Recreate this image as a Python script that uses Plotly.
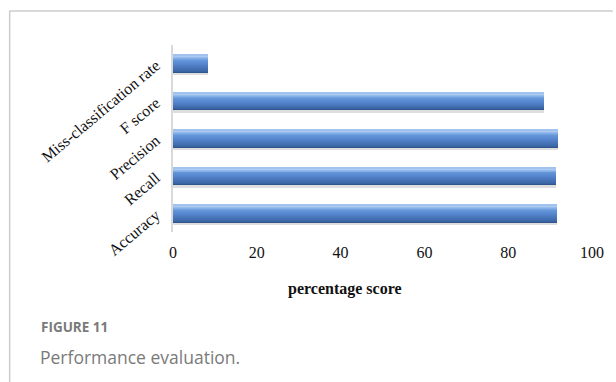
import plotly.graph_objects as go

# Performance metrics (percent), listed bottom to top
metrics = ["Accuracy", "Recall", "Precision", "F score", "Miss-classification rate"]
scores = [91.6, 91.4, 91.8, 88.6, 8.4]
x_ticks = [0, 20, 40, 60, 80, 100]

# Canvas and plot-area geometry (pixels)
W, H = 616, 382
M_LEFT, M_RIGHT, M_TOP, M_BOTTOM = 173, 21, 45, 150
PW = W - M_LEFT - M_RIGHT
PH = H - M_TOP - M_BOTTOM


def px_x(px):
    return (px - M_LEFT) / PW


def px_y(py):
    return (H - M_BOTTOM - py) / PH


SERIF = "Liberation Serif, Times New Roman, serif"
SANS = "Open Sans, Noto Sans, sans-serif"

BAR_W = 0.47
fig = go.Figure()

# drop shadow under each bar
fig.add_trace(go.Bar(
    x=scores, y=metrics, orientation="h",
    width=BAR_W, offset=-BAR_W / 2 - 0.08,
    marker=dict(color="rgba(0,0,0,0.13)", line=dict(width=0)),
    hoverinfo="skip", showlegend=False,
))

# glossy body: thin strips stacked from the bottom edge to the top edge
stops = [
    (0.00, (44, 80, 132)),
    (0.10, (60, 102, 166)),
    (0.45, (82, 130, 202)),
    (0.70, (100, 150, 218)),
    (0.84, (140, 180, 234)),
    (0.93, (178, 206, 243)),
    (1.00, (150, 186, 232)),
]


def blend(t):
    for (t0, c0), (t1, c1) in zip(stops, stops[1:]):
        if t <= t1:
            f = (t - t0) / (t1 - t0)
            return "rgb(%d,%d,%d)" % tuple(round(a + (b - a) * f) for a, b in zip(c0, c1))
    return "rgb(%d,%d,%d)" % stops[-1][1]


N = 18
strip = BAR_W / N
for i in range(N):
    t = (i + 0.5) / N
    fig.add_trace(go.Bar(
        x=scores, y=metrics, orientation="h",
        width=strip * 1.15, offset=-BAR_W / 2 + i * strip,
        marker=dict(color=blend(t), line=dict(width=0)),
        hoverinfo="skip" if i else "x+y", showlegend=False,
    ))

fig.update_layout(
    width=W,
    height=H,
    margin=dict(l=M_LEFT, r=M_RIGHT, t=M_TOP, b=M_BOTTOM, pad=0),
    paper_bgcolor="white",
    plot_bgcolor="white",
    barmode="overlay",
    bargap=0,
    xaxis=dict(
        range=[0, 100],
        tickvals=x_ticks,
        ticktext=[str(v) for v in x_ticks],
        showgrid=False,
        zeroline=False,
        showline=False,
        ticks="outside",
        ticklen=6,
        tickcolor="rgba(0,0,0,0)",
        tickfont=dict(family=SERIF, size=16, color="#111111"),
        fixedrange=True,
    ),
    yaxis=dict(
        type="category",
        categoryorder="array",
        categoryarray=metrics,
        range=[-0.5, len(metrics) - 0.5],
        showgrid=False,
        zeroline=False,
        showline=True,
        linecolor="#d9d9d9",
        linewidth=1.5,
        ticks="outside",
        ticklen=12,
        tickcolor="rgba(0,0,0,0)",
        tickangle=-40,
        tickfont=dict(family=SERIF, size=16, color="#111111"),
        fixedrange=True,
    ),
    annotations=[
        dict(
            text="<b>percentage score</b>",
            xref="paper", yref="paper",
            x=px_x(346), y=px_y(289),
            xanchor="center", yanchor="middle",
            showarrow=False,
            font=dict(family=SERIF, size=16, color="#111111"),
        ),
        dict(
            text="<b>FIGURE 11</b>",
            xref="paper", yref="paper",
            x=px_x(38), y=px_y(327),
            xanchor="left", yanchor="middle",
            showarrow=False,
            font=dict(family=SANS, size=13.5, color="#7a7a7a"),
        ),
        dict(
            text="Performance evaluation.",
            xref="paper", yref="paper",
            x=px_x(37), y=px_y(357),
            xanchor="left", yanchor="middle",
            showarrow=False,
            font=dict(family=SANS, size=17.5, color="#7a7a7a"),
        ),
    ],
    shapes=[
        # frame around the figure panel
        dict(type="line", xref="paper", yref="paper",
             x0=px_x(8.5), x1=px_x(8.5), y0=px_y(11), y1=px_y(H),
             line=dict(color="#cccccc", width=1.5)),
        dict(type="line", xref="paper", yref="paper",
             x0=px_x(8), x1=px_x(W), y0=px_y(11), y1=px_y(11),
             line=dict(color="#cccccc", width=1.5)),
    ],
)

fig.write_html("out.html", config={"displayModeBar": False})
